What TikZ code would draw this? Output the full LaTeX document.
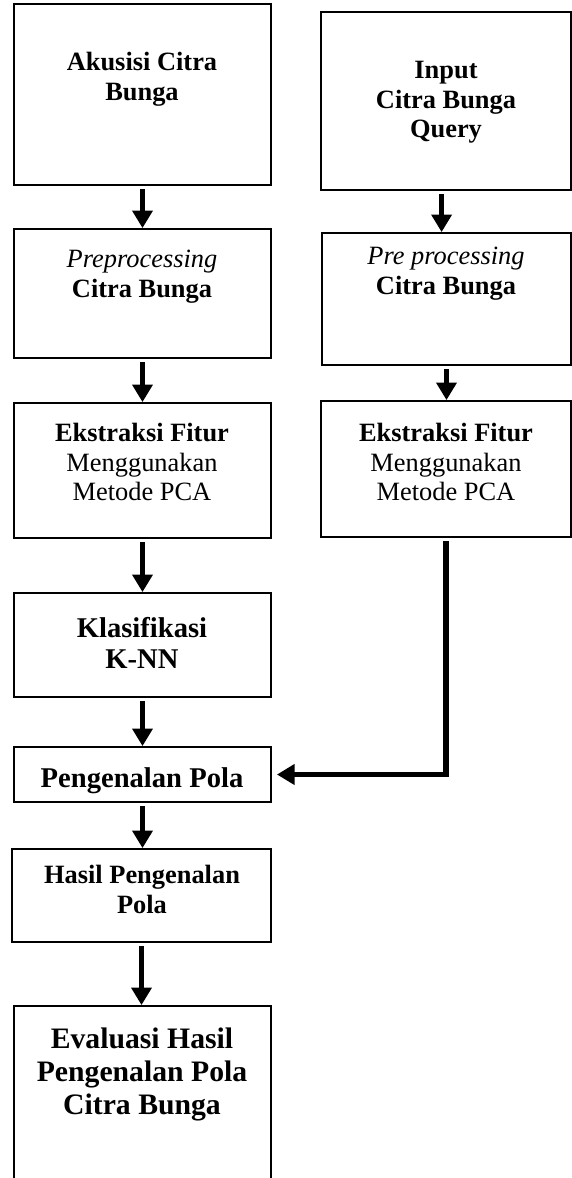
\documentclass[tikz,border=0pt]{standalone}
\usepackage{fontspec}
\setmainfont{Liberation Serif}
\usetikzlibrary{arrows.meta,positioning,fit}

\tikzset{
  box/.style={draw, line width=0.8pt, inner sep=0pt},
  flow/.style={line width=2.4pt, -{Triangle[length=8pt,width=9pt]}, shorten <=1.5pt},
  lbl/.style={anchor=north, align=center, inner sep=0pt, font=\fontsize{12}{13.4}\selectfont},
  lblb/.style={lbl, font=\fontsize{12}{13.4}\selectfont\bfseries},
  lblbig/.style={lbl, font=\fontsize{13}{14.1}\selectfont\bfseries},
  lblhuge/.style={lbl, font=\fontsize{13.5}{15.2}\selectfont\bfseries},
}

\begin{document}
\begin{tikzpicture}[x=0.4545pt, y=-0.4545pt]
    \clip (0,0) rectangle (572,1178);

    \node[box, fit={(14,4) (271,185)}] (akusisi) {};
    \node[box, fit={(14,229) (271,358)}] (preproc) {};
    \node[box, fit={(14,403) (271,538)}] (ekstraksi) {};
    \node[box, fit={(14,593) (271,697)}] (klasifikasi) {};
    \node[box, fit={(14,747) (271,802)}] (pengenalan) {};
    \node[box, fit={(12,849) (271,942)}] (hasil) {};
    \node[box, fit={(14,1006) (271,1200)}] (evaluasi) {};

    \node[box, fit={(321,12) (571,190)}] (inputq) {};
    \node[box, fit={(322,233) (571,365)}] (preprocq) {};
    \node[box, fit={(321,401) (571,537)}] (ekstraksiq) {};

    \node[lblb] (akusisitxt) at (142,52) {Akusisi Citra\\Bunga};
    \node[lbl] (preproctxt) at (142,250) {\textit{Preprocessing}\\\textbf{Citra Bunga}};
    \node[lbl] (ekstraksitxt) at (142,423) {\textbf{Ekstraksi Fitur}\\Menggunakan\\Metode PCA};
    \node[lblbig] (klasifikasitxt) at (142,617) {Klasifikasi\\K-NN};
    \node[lblbig] (pengenalantxt) at (142,767) {Pengenalan Pola};
    \node[lblb] (hasiltxt) at (142,865) {Hasil Pengenalan\\Pola};
    \node[lblhuge] (evaluasitxt) at (142,1027) {Evaluasi Hasil\\Pengenalan Pola\\Citra Bunga};

    \node[lblb] (inputtxt) at (446,61) {Input\\Citra Bunga\\Query};
    \node[lbl] (preprocqtxt) at (446,247) {\textit{Pre processing}\\\textbf{Citra Bunga}};
    \node[lbl] (ekstraksiqtxt) at (446,423) {\textbf{Ekstraksi Fitur}\\Menggunakan\\Metode PCA};

    \foreach \a/\b in {akusisi/preproc, preproc/ekstraksi, ekstraksi/klasifikasi,
                       klasifikasi/pengenalan, pengenalan/hasil, hasil/evaluasi,
                       preprocq/ekstraksiq}
        \draw[flow] (\a.south) -- (\a.south |- \b.north);
    \draw[flow] ([xshift=-2pt]inputq.south) -- ([xshift=-2pt]inputq.south |- preprocq.north);

    \draw[flow] (ekstraksiq.south) |- ([xshift=2.3pt]pengenalan.east);
\end{tikzpicture}
\end{document}
